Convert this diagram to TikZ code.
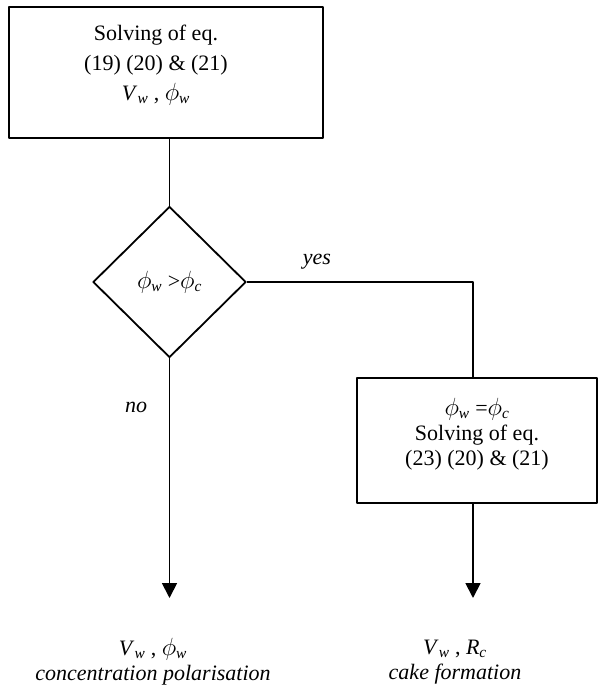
\documentclass[tikz,border=0pt]{standalone}
\usepackage{graphicx}
\usepackage{fontspec}
\setmainfont{Liberation Serif}
\usetikzlibrary{shapes.geometric,arrows.meta}
\newcommand{\qsub}[2]{\textit{#1}\textsubscript{\textit{#2}}}
\newcommand{\phisub}[1]{\scalebox{1.2}{$\phi$}\textsubscript{\textit{#1}}}

\begin{document}
\begin{tikzpicture}[x=1pt, y=1pt, line join=round, line width=1.8pt,
	txt/.style={font=\fontsize{22}{25}\selectfont, align=center},
	box/.style={txt, draw, rectangle, inner sep=0pt},
	test/.style={txt, draw, diamond, aspect=1, inner sep=0pt},
	lbl/.style={txt, font=\fontsize{22}{25}\selectfont\itshape},
	>={Triangle[width=15pt,length=15pt]}]
	\useasboundingbox (0,0) rectangle (599,-696);
	\path
	(166,-72.5) node[box, minimum width=314pt, minimum height=131pt] (solve) {}
	(156,-65) node[txt] (solveTxt)
		{Solving of eq.\\[5pt](19) (20) \& (21)\\[5pt]\qsub{V}{w} , \phisub{w}}
	(169.5,-282) node[test, minimum width=153pt, minimum height=151pt] (check)
		{\phisub{w} >\phisub{c}}
	(477,-440.5) node[box, minimum width=240pt, minimum height=125pt] (cake)
		{\phisub{w} =\phisub{c}\\Solving of eq.\\(23) (20) \& (21)\\[-8pt]}
	(473,-282) coordinate (turn)
	(169.5,-598) coordinate (endL)
	(473,-598) coordinate (endR);
	\draw (solve.south -| check.north) -- (check.north);
	\draw (check.east) -- (turn) -- (turn |- cake.north);
	\draw[->] (check.south) -- (endL);
	\draw[->] (turn |- cake.south) -- (endR);
	\path
	(317,-262) node[lbl] (yes) {yes}
	(136,-407) node[lbl] (no) {no}
	(153,-662) node[txt] (resL) {\qsub{V}{w} , \phisub{w}\\\textit{concentration polarisation}}
	(455,-662) node[txt] (resR) {\qsub{V}{w} , \qsub{R}{c}\\\textit{cake formation}};
\end{tikzpicture}
\end{document}
